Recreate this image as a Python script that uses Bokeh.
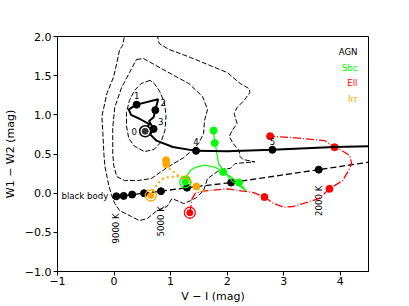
import numpy as np
from bokeh.plotting import figure
from bokeh.models import FixedTicker, ColumnDataSource
from bokeh.embed import file_html
from bokeh.resources import INLINE
from bokeh.core.properties import value

FONT = "DejaVu Sans"

# ---------------- data ----------------
# dashed density contours (V-I, W1-W2)
outer_x = [0.204, 0.152, 0.099, 0.047, -0.005, -0.127, -0.215, -0.197, -0.180, -0.162, -0.092, -0.040,
           0.012, 0.099, 0.309, 0.449, 0.588, 0.763, 0.937, 1.024, 1.112, 1.234, 1.356, 1.461, 1.583,
           1.653, 1.827, 1.967, 2.054, 2.141, 2.49, 2.28, 2.229, 2.211, 2.106, 2.037, 2.089, 2.176,
           2.124, 2.176, 2.298, 2.403, 2.386, 2.229, 2.002, 1.740, 1.443, 1.216, 0.972, 0.798, 0.745]
outer_y = [2.077, 1.885, 1.834, 1.655, 1.489, 1.272, 0.978, 0.761, 0.506, 0.340, 0.097, -0.031,
           -0.133, -0.222, -0.299, -0.350, -0.324, -0.222, -0.171, -0.069, -0.095, -0.133, -0.095,
           -0.056, 0.033, 0.186, 0.276, 0.314, 0.314, 0.378, 0.40, 0.43, 0.467, 0.544, 0.634, 0.723,
           0.800, 0.889, 1.017, 1.093, 1.183, 1.285, 1.336, 1.400, 1.540, 1.617, 1.706, 1.770, 1.834,
           1.911, 2.077]
middle_x = [0.396, 0.518, 0.867, 1.094, 1.321, 1.565, 1.653, 1.600, 1.583, 1.496, 1.373, 1.234, 0.937,
            0.658, 0.414, 0.187, 0.047, -0.005, -0.023, -0.023, 0.012, 0.134, 0.274, 0.396]
middle_y = [1.706, 1.719, 1.579, 1.489, 1.400, 1.234, 1.068, 0.927, 0.761, 0.634, 0.544, 0.455, 0.327,
            0.186, 0.161, 0.161, 0.212, 0.353, 0.506, 0.838, 1.093, 1.349, 1.540, 1.706]
inner_x = [0.64, 0.48, 0.36, 0.27, 0.22, 0.22, 0.26, 0.36, 0.54, 0.71, 0.83, 0.90, 0.92, 0.89, 0.80, 0.71, 0.64]
inner_y = [1.44, 1.40, 1.31, 1.18, 1.03, 0.86, 0.70, 0.60, 0.53, 0.56, 0.65, 0.80, 0.99, 1.16, 1.31, 1.40, 1.44]

# black body sequence
bb_T = [9000, 8000, 7000, 6000, 5000, 4000, 3000, 2000]
bb_x = [0.04, 0.17, 0.32, 0.53, 0.83, 1.29, 2.07, 3.62]
bb_y = [-0.04, -0.035, -0.018, 0.0, 0.025, 0.07, 0.135, 0.30]
bb_line_x = bb_x + [4.5]
bb_line_y = bb_y + [0.395]
bb_label_T = [9000, 5000, 2000]

# AGN track
agn_x = [0.55, 0.62, 0.45, 0.30, 0.26, 0.40, 0.78, 0.73, 0.70, 0.62, 0.66, 0.70, 0.64, 0.75, 1.04,
         1.45, 2.0, 2.80, 3.90, 4.5]
agn_y = [0.79, 0.88, 0.95, 1.00, 1.07, 1.13, 1.20, 1.06, 0.97, 0.92, 0.87, 0.82, 0.75, 0.67, 0.59,
         0.54, 0.535, 0.553, 0.59, 0.60]
agn_z = ["0", "1", "2", "3", "4", "5"]
agn_zx = [0.55, 0.40, 0.73, 0.70, 1.45, 2.80]
agn_zy = [0.79, 1.13, 1.06, 0.82, 0.54, 0.553]

# Sbc track
sbc_x = [1.26, 1.29, 1.35, 1.44, 1.61, 1.79, 1.93, 2.08, 2.21, 2.34, 2.08, 1.85, 1.79, 1.78, 1.76]
sbc_y = [0.14, 0.22, 0.29, 0.33, 0.36, 0.33, 0.27, 0.20, 0.135, 0.03, 0.16, 0.37, 0.63, 0.64, 0.80]
sbc_dx = [1.93, 2.21, 1.78, 1.76]
sbc_dy = [0.27, 0.135, 0.64, 0.80]

# Ell track
ell_x = [1.34, 1.38, 1.44, 1.50, 1.61, 2.02, 2.25, 2.47, 2.66, 2.82, 3.00, 3.17, 3.40, 3.62, 3.81,
         4.04, 4.15, 4.20, 4.17, 4.03, 3.90, 3.73, 3.15, 2.76]
ell_y = [-0.25, -0.07, 0.0, 0.01, 0.03, 0.055, 0.03, 0.007, -0.05, -0.13, -0.18, -0.17, -0.12, -0.07,
         0.055, 0.16, 0.29, 0.38, 0.48, 0.544, 0.586, 0.67, 0.71, 0.727]
ell_dx = [2.66, 3.81, 3.90, 2.76]
ell_dy = [-0.05, 0.055, 0.586, 0.727]

# Irr track
irr_x = [0.65, 0.68, 0.77, 0.855, 0.94, 1.06, 1.18, 1.28, 1.38, 1.455, 1.56, 1.61, 1.45, 1.30, 1.15,
         1.06, 0.98, 0.925, 0.92]
irr_y = [-0.03, 0.03, 0.12, 0.18, 0.20, 0.21, 0.22, 0.18, 0.12, 0.085, 0.03, 0.01, 0.09, 0.17, 0.22,
         0.27, 0.31, 0.37, 0.42]
irr_dx = [1.28, 1.455, 0.925, 0.92]
irr_dy = [0.18, 0.085, 0.37, 0.42]

# start (z = 0) points of the galaxy templates
start_x = [1.26, 1.34, 0.65]
start_y = [0.14, -0.25, -0.03]

legend_names = ["AGN", "Sbc", "Ell", "Irr"]

BLACK, LIME, RED, ORANGE = "#000000", "#00ff00", "#ff0000", "#ffa500"
start_colors = [LIME, RED, ORANGE]
legend_colors = [BLACK, LIME, RED, ORANGE]

# ---------------- figure ----------------
p = figure(width=409, height=306, x_range=(-1, 4.5), y_range=(-1, 2),
           output_backend="svg", toolbar_location=None,
           min_border_left=52, min_border_right=41, min_border_top=36, min_border_bottom=35)
p.grid.visible = False
p.outline_line_color = "black"
p.outline_line_width = 1
p.outline_line_alpha = 1
p.background_fill_color = "white"
p.border_fill_color = "white"

p.xaxis.ticker = FixedTicker(ticks=[-1, 0, 1, 2, 3, 4], minor_ticks=[])
p.xaxis.major_label_overrides = {-1: "\u22121", 0: "0", 1: "1", 2: "2", 3: "3", 4: "4"}
p.yaxis.ticker = FixedTicker(ticks=[-1, -0.5, 0, 0.5, 1, 1.5, 2], minor_ticks=[])
p.yaxis.major_label_overrides = {-1: "\u22121.0", -0.5: "\u22120.5", 0: "0.0", 0.5: "0.5",
                                 1: "1.0", 1.5: "1.5", 2: "2.0"}
p.xaxis.axis_label = "V \u2212 I (mag)"
p.yaxis.axis_label = "W1 \u2212 W2 (mag)"
for ax in (p.xaxis, p.yaxis):
    ax.axis_line_color = "black"
    ax.major_tick_line_color = "black"
    ax.major_tick_out = 4
    ax.major_tick_in = 0
    ax.minor_tick_out = 0
    ax.minor_tick_in = 0
    ax.major_label_text_font = FONT
    ax.major_label_text_font_size = "11px"
    ax.major_label_text_color = "black"
    ax.axis_label_text_font = FONT
    ax.axis_label_text_font_size = "11px"
    ax.axis_label_text_font_style = "normal"
    ax.axis_label_text_color = "black"
p.xaxis.major_label_standoff = 1
p.xaxis.axis_label_standoff = 2
p.yaxis.major_label_standoff = 2
p.yaxis.axis_label_standoff = 5

# contours
for cx, cy in ((outer_x, outer_y), (middle_x, middle_y), (inner_x, inner_y)):
    p.line(cx, cy, line_color="black", line_width=1, line_dash="5 2")

# black body
p.line(bb_line_x, bb_line_y, line_color="black", line_width=1.3, line_dash="6 3")
p.scatter(bb_x, bb_y, size=7, color="black")
p.text(x=[bb_x[0]], y=[bb_y[0]], text=["black body"], x_offset=-8,
       text_font=value(FONT), text_font_size="8.6px", text_align="right",
       text_baseline="middle", text_color="black")
lab_src = ColumnDataSource(dict(
    x=[bb_x[bb_T.index(t)] for t in bb_label_T],
    y=[bb_y[bb_T.index(t)] for t in bb_label_T],
    text=["%d K" % t for t in bb_label_T],
    yo=[17, 15, 16]))
p.text(x="x", y="y", text="text", y_offset="yo", angle=np.pi / 2, source=lab_src,
       text_font=value(FONT), text_font_size="8.6px", text_align="right",
       text_baseline="middle", text_color="black")

# galaxy tracks
p.line(sbc_x, sbc_y, line_color=LIME, line_width=1.2)
p.line(ell_x, ell_y, line_color=RED, line_width=1.3, line_dash="8 2 1 2")
p.line(irr_x, irr_y, line_color=ORANGE, line_width=2, line_dash="2 3")
p.scatter(sbc_dx, sbc_dy, size=7, color=LIME)
p.scatter(ell_dx, ell_dy, size=7, color=RED)
p.scatter(irr_dx, irr_dy, size=7, color=ORANGE)
p.scatter(start_x, start_y, size=11, fill_color=None, line_color=start_colors, line_width=1.3)
p.scatter(start_x, start_y, size=6, color=start_colors)

# AGN track
p.line(agn_x, agn_y, line_color="black", line_width=2)
p.scatter(agn_zx[1:], agn_zy[1:], size=7, color="black")
p.scatter(agn_zx[:1], agn_zy[:1], size=11, fill_color="white", line_color="black", line_width=1.5)
p.scatter(agn_zx[:1], agn_zy[:1], size=6, color="#333333")
z_src = ColumnDataSource(dict(x=agn_zx, y=agn_zy, text=agn_z,
                              xo=[-11, 0, 8, 7, 0, 0], yo=[0, -9, -8, -7, -9, -8]))
p.text(x="x", y="y", text="text", x_offset="xo", y_offset="yo", source=z_src,
       text_font=value(FONT), text_font_size="8.6px", text_align="center",
       text_baseline="middle", text_color="black")

# legend (text only, coloured)
leg_src = ColumnDataSource(dict(x=[4.305] * 4, y=[1.80, 1.604, 1.409, 1.204],
                                text=legend_names, color=legend_colors))
p.text(x="x", y="y", text="text", text_color="color", source=leg_src,
       text_font=value(FONT), text_font_size="8.6px", text_align="right",
       text_baseline="middle")

open("out.html", "w").write(file_html(p, INLINE))
